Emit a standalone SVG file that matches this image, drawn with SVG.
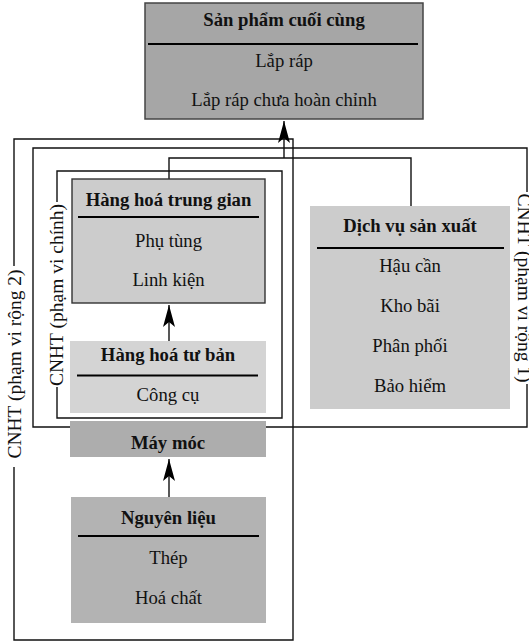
<svg xmlns="http://www.w3.org/2000/svg" width="529" height="641" viewBox="0 0 529 641">
<style>
text{font-family:"Liberation Serif","Times New Roman",serif;fill:#111;}
.t{font-size:18.7px;text-anchor:middle;}
.b{font-weight:bold;}
.r{font-size:19.5px;text-anchor:middle;}
.sep{stroke:#000;stroke-width:2.2;}
.bd{fill:none;stroke:#111;stroke-width:1.4;}
.cn{fill:none;stroke:#111;stroke-width:1.4;}
</style>
<defs>
<marker id="ah" markerUnits="userSpaceOnUse" markerWidth="24" markerHeight="14" viewBox="-23 -7 24 14" refX="0" refY="0" orient="auto">
<path d="M0,0 L-22,-6 L-17,0 L-22,6 Z" fill="#000"/>
</marker>
</defs>
<rect width="529" height="641" fill="#fff"/>

<g id="scope-rong2">
<path class="bd" d="M14,266 V139 H293 V640 H14 V467"/>
<text class="r" transform="translate(20.5,364) rotate(-90)">CNHT (phạm vi rộng 2)</text>
</g>
<g id="scope-rong1">
<path class="bd" d="M527,192 V148 H33 V427 H527 V384"/>
<text class="r" transform="translate(518,288) rotate(90)">CNHT (phạm vi rộng 1)</text>
</g>
<g id="scope-chinh">
<path class="bd" d="M57,202 V171 H282 V418 H57 V387"/>
<text class="r" transform="translate(63.3,295) rotate(-90)">CNHT (phạm vi chính)</text>
</g>

<g id="connectors">
<path class="cn" d="M169,179 V158 H411 V206"/>
<path class="cn" d="M284,158 V121" marker-end="url(#ah)"/>
<path class="cn" d="M169,341 V305" marker-end="url(#ah)"/>
<path class="cn" d="M169,497 V459" marker-end="url(#ah)"/>
</g>

<g id="san-pham-cuoi-cung">
<rect x="145" y="3" width="278" height="116" fill="#a6a6a6" stroke="#444" stroke-width="1.5"/>
<text class="t b" x="284" y="26">Sản phẩm cuối cùng</text>
<line class="sep" x1="148" y1="44" x2="418" y2="44"/>
<text class="t" x="284" y="67">Lắp ráp</text>
<text class="t" x="284" y="106">Lắp ráp chưa hoàn chỉnh</text>
</g>

<g id="hang-hoa-trung-gian">
<rect x="72" y="179" width="193" height="124" fill="#cccccc" stroke="#333" stroke-width="1.4"/>
<text class="t b" x="168.5" y="206">Hàng hoá trung gian</text>
<line class="sep" x1="78" y1="217" x2="259" y2="217"/>
<text class="t" x="168.5" y="246.5">Phụ tùng</text>
<text class="t" x="168.5" y="286">Linh kiện</text>
</g>

<g id="hang-hoa-tu-ban">
<rect x="70" y="341" width="196" height="72" fill="#d4d4d4"/>
<text class="t b" x="168" y="360.5">Hàng hoá tư bản</text>
<line class="sep" x1="77" y1="375.5" x2="258" y2="375.5"/>
<text class="t" x="168" y="400.5">Công cụ</text>
<rect x="70" y="421" width="196" height="36" fill="#adadad"/>
<text class="t b" x="168" y="448.5">Máy móc</text>
</g>

<g id="nguyen-lieu">
<rect x="71" y="497" width="195" height="126" fill="#b3b3b3"/>
<text class="t b" x="168.5" y="524">Nguyên liệu</text>
<line class="sep" x1="78" y1="536" x2="259" y2="536"/>
<text class="t" x="168.5" y="564">Thép</text>
<text class="t" x="168.5" y="604">Hoá chất</text>
</g>

<g id="dich-vu-san-xuat">
<rect x="310" y="206" width="200" height="203" fill="#cccccc"/>
<text class="t b" x="410" y="232">Dịch vụ sản xuất</text>
<line class="sep" x1="317" y1="248" x2="504" y2="248"/>
<text class="t" x="410" y="272">Hậu cần</text>
<text class="t" x="410" y="312">Kho bãi</text>
<text class="t" x="410" y="352">Phân phối</text>
<text class="t" x="410" y="392">Bảo hiểm</text>
</g>
</svg>
